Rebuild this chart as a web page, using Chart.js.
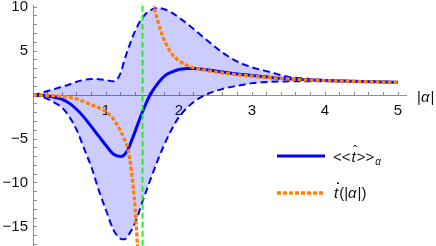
<!DOCTYPE html>
<html>
<head>
<meta charset="utf-8">
<script src="https://cdn.jsdelivr.net/npm/chart.js@4/dist/chart.umd.min.js"></script>
<style>
  html, body { margin: 0; padding: 0; background: #fff; }
  #wrap { position: relative; width: 436px; height: 246px; }
</style>
</head>
<body>
<div id="wrap"><canvas id="chart"></canvas></div>
<script>
// |alpha| samples shared by the two dashed envelope curves
const alphaEnv = [0, 0.1, 0.2, 0.3, 0.4, 0.5, 0.6, 0.7, 0.8, 0.9, 1.0, 1.1, 1.15, 1.2, 1.25, 1.3, 1.4, 1.5, 1.6, 1.7, 1.8, 1.9, 2.0, 2.2, 2.4, 2.6, 2.8, 3.0, 3.25, 3.5, 3.75, 4.0, 4.5, 5.0];
const upperEnv = [0, 0.2, 0.45, 0.7, 0.95, 1.2, 1.5, 1.72, 1.82, 1.8, 1.7, 1.55, 1.75, 2.5, 3.9, 5.15, 7.3, 8.8, 9.6, 9.9, 9.75, 9.35, 8.8, 7.5, 6.1, 4.8, 3.8, 3.15, 2.6, 2.05, 1.85, 1.7, 1.56, 1.47];
const lowerEnv = [0, -0.15, -0.45, -0.9, -1.45, -2.5, -4.0, -6.1, -8.2, -10.8, -13.1, -15.3, -15.95, -16.35, -16.4, -16.0, -14.5, -12.1, -9.8, -7.6, -5.6, -3.9, -2.5, -0.8, 0.15, 0.7, 1.05, 1.35, 1.5, 1.55, 1.57, 1.57, 1.52, 1.43];

// <<t>>_alpha (solid blue)
const alphaMean = [0, 0.1, 0.2, 0.3, 0.4, 0.5, 0.6, 0.7, 0.8, 0.9, 1.0, 1.1, 1.2, 1.25, 1.3, 1.4, 1.5, 1.6, 1.7, 1.8, 1.9, 2.0, 2.1, 2.2, 2.4, 2.6, 2.8, 3.0, 3.25, 3.5, 3.75, 4.0, 4.5, 5.0];
const meanT = [0, -0.03, -0.12, -0.28, -0.5, -0.95, -1.65, -2.54, -3.6, -4.67, -5.74, -6.7, -7.0, -6.8, -6.2, -4.1, -1.9, -0.05, 1.2, 2.15, 2.6, 2.9, 3.0, 3.02, 2.85, 2.62, 2.4, 2.22, 2.0, 1.84, 1.73, 1.65, 1.53, 1.45];

// t-dot(|alpha|) (orange dotted), null = break at the pole
const alphaDot = [0, 0.2, 0.4, 0.5, 0.6, 0.7, 0.8, 0.9, 1.0, 1.1, 1.2, 1.25, 1.3, 1.35, 1.4, 1.45, 1.55, 1.64, 1.67, 1.7, 1.75, 1.8, 1.9, 2.0, 2.1, 2.2, 2.4, 2.6, 2.8, 3.0, 3.25, 3.5, 3.75, 4.0, 4.5, 5.0];
const tDot = [0, -0.05, -0.15, -0.28, -0.45, -0.75, -1.1, -1.45, -1.9, -2.7, -4.1, -5.0, -6.1, -8.8, -13.0, -20, null, 11.2, 9.6, 8.7, 7.3, 6.2, 4.7, 3.9, 3.4, 3.1, 2.75, 2.5, 2.3, 2.14, 1.97, 1.83, 1.72, 1.64, 1.52, 1.45];

const alphaCut = 1.5;           // green dashed marker
const xRange = [0, 5.12];
const yRange = [-17.16, 10.15];
const xLabels = [1, 2, 3, 4, 5];
const yLabels = [-15, -10, -5, 5, 10];

const BLUE = '#0000ff';
const ORANGE = '#ff8000';
const GREEN = '#22ee22';
const AXIS = '#8c8c8c';
const FONT = '"Liberation Sans", Arial, sans-serif';

const pts = (xs, ys) => xs.map((x, i) => ({ x, y: ys[i] }));

// legend + axis label, drawn over the plot
const decor = {
  id: 'decor',
  afterDraw(chart) {
    const ctx = chart.ctx;
    ctx.save();
    ctx.fillStyle = '#111';
    ctx.textBaseline = 'middle';
    const norm = '15px ' + FONT;
    const ital = 'italic 15px ' + FONT;

    // |alpha| at the end of the x axis
    let x = 417, y = 98;
    ctx.font = norm; ctx.fillText('|', x, y); x += ctx.measureText('|').width;
    ctx.font = ital; ctx.fillText('α', x, y); x += ctx.measureText('α').width + 1;
    ctx.font = norm; ctx.fillText('|', x, y);

    // legend row 1
    ctx.setLineDash([]);
    ctx.strokeStyle = BLUE; ctx.lineWidth = 3;
    ctx.beginPath(); ctx.moveTo(277, 156); ctx.lineTo(325, 156); ctx.stroke();
    x = 333; y = 158;
    ctx.font = norm; ctx.fillText('<<', x, y); x += ctx.measureText('<<').width + 1;
    ctx.font = ital; ctx.fillText('t', x, y);
    const tw = ctx.measureText('t').width;
    ctx.font = '13px ' + FONT; ctx.fillText('ˆ', x + 1.5, y - 7);
    x += tw + 1;
    ctx.font = norm; ctx.fillText('>>', x, y); x += ctx.measureText('>>').width;
    ctx.font = 'italic 10px ' + FONT; ctx.fillText('α', x + 1, y + 4);

    // legend row 2
    ctx.strokeStyle = ORANGE; ctx.lineWidth = 3.3;
    ctx.setLineDash([4, 2]);
    ctx.beginPath(); ctx.moveTo(277, 193); ctx.lineTo(323, 193); ctx.stroke();
    x = 334; y = 194;
    ctx.font = ital; ctx.fillText('t', x, y);
    ctx.font = 'bold 15px ' + FONT; ctx.fillText('˙', x + 1.5, y - 5);
    ctx.font = ital; x += ctx.measureText('t').width + 1;
    ctx.font = norm; ctx.fillText('(|', x, y); x += ctx.measureText('(|').width;
    ctx.font = ital; ctx.fillText('α', x, y); x += ctx.measureText('α').width + 1;
    ctx.font = norm; ctx.fillText('|)', x, y);
    ctx.restore();
  }
};

const noPad = (scale) => {
  scale.paddingTop = 0; scale.paddingBottom = 0;
  scale.paddingLeft = 0; scale.paddingRight = 0;
};

new Chart(document.getElementById('chart'), {
  type: 'line',
  data: {
    datasets: [
      {
        data: [{ x: alphaCut, y: yRange[1] }, { x: alphaCut, y: yRange[0] }],
        borderColor: GREEN, borderWidth: 2, borderDash: [6, 3], clip: 0
      },
      {
        data: pts(alphaDot, tDot),
        borderColor: ORANGE, borderWidth: 3.3, borderDash: [4, 2],
        cubicInterpolationMode: 'monotone', clip: 0
      },
      {
        data: pts(alphaMean, meanT),
        borderColor: BLUE, borderWidth: 3,
        cubicInterpolationMode: 'monotone'
      },
      {
        data: pts(alphaEnv, upperEnv),
        borderColor: BLUE, borderWidth: 2, borderDash: [7, 4],
        cubicInterpolationMode: 'monotone',
        fill: '+1', backgroundColor: 'rgba(0,0,255,0.2)'
      },
      {
        data: pts(alphaEnv, lowerEnv),
        borderColor: BLUE, borderWidth: 2, borderDash: [7, 4],
        cubicInterpolationMode: 'monotone'
      }
    ]
  },
  options: {
    responsive: true,
    maintainAspectRatio: false,
    animation: false,
    events: [],
    layout: { padding: { left: 2.6, right: 29.2, top: 5.7, bottom: 0 } },
    elements: { point: { radius: 0 }, line: { fill: false } },
    plugins: { legend: { display: false }, tooltip: { enabled: false } },
    scales: {
      x: {
        type: 'linear',
        position: { y: 0 },
        min: xRange[0], max: xRange[1],
        afterFit: noPad,
        border: { color: AXIS, width: 1 },
        grid: { drawOnChartArea: false, drawTicks: true, tickLength: -4, tickColor: AXIS },
        ticks: {
          stepSize: 0.2, autoSkip: false, includeBounds: false, maxRotation: 0,
          padding: 11, color: '#111', font: { family: FONT, size: 15 },
          callback: v => xLabels.includes(Math.round(v * 100) / 100) ? String(Math.round(v)) : ''
        }
      },
      y: {
        type: 'linear',
        position: 'left',
        min: yRange[0], max: yRange[1],
        afterFit: (scale) => { noPad(scale); scale.width = 30.4; },
        border: { color: AXIS, width: 1 },
        grid: { drawOnChartArea: false, drawTicks: true, tickLength: -4, tickColor: AXIS },
        ticks: {
          stepSize: 1, autoSkip: false, includeBounds: false,
          padding: 9, color: '#111', font: { family: FONT, size: 15, lineHeight: 0.8 },
          callback: v => yLabels.includes(v) ? (v < 0 ? '−' + Math.abs(v) : String(v)) : ''
        }
      }
    }
  },
  plugins: [decor]
});
</script>
</body>
</html>
